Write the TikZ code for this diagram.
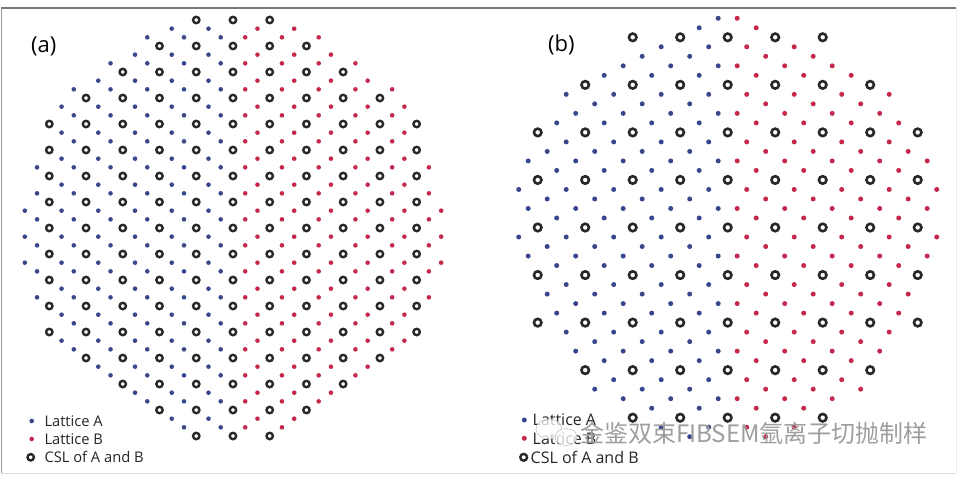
\documentclass[tikz,border=0pt]{standalone}
\usepackage{fontspec}
\setmainfont{Open Sans}
\newfontfamily\cjkfont{Noto Sans CJK SC}
\usetikzlibrary{positioning}
\definecolor{latA}{RGB}{58,70,140}
\definecolor{latB}{RGB}{196,40,76}
\definecolor{ring}{RGB}{40,40,40}
\definecolor{frame}{RGB}{120,120,120}

\begin{document}
\begin{tikzpicture}[x=1pt,y=-1pt,
    dotA/.style={circle,fill=latA,inner sep=0pt,minimum size=#1},
    dotB/.style={circle,fill=latB,inner sep=0pt,minimum size=#1},
    csl/.style={circle,draw=ring,line width=2.4pt,inner sep=0pt,minimum size=#1},
    tag/.style={font=\fontsize{22}{26}\selectfont,inner sep=0pt,anchor=west},
    lgtext/.style={font=\fontsize{#1}{18}\selectfont,inner sep=0pt,anchor=west,text=black!85}]
  \useasboundingbox (0,0) rectangle (961,484);
  \fill[white] (0,0) rectangle (961,484);
  \coordinate (TL) at (1,8);
  \coordinate (TR) at (956,8);
  \coordinate (BL) at (1,473);
  \coordinate (BR) at (956,473);
  \draw[black!15] (BL) -- (BR);
  \draw[black!8] (TR) -- (BR);
  \draw[black!40] (TL) -- (BL);
  \draw[frame,line width=1.4pt] (TL) -- (TR);

  \node[tag] (taga) at (31,46) {(a)};
  \node[tag] (tagb) at (548,44.5) {(b)};

  \foreach \q in {0,...,48}
    \foreach \p in {-2,...,32}{
      \pgfmathtruncatemacro\rr{2*(\p-15)*(\p-15)+(\q-24)*(\q-24)}
      \ifnum\rr<599
        \pgfmathtruncatemacro\kc{mod(\p+99,3)+mod(\q+99,3)}
        \ifnum\kc=0
          \node[csl=6.4pt] (a-\p-\q) at ({49.3+12.245*\p},{20+8.667*\q}) {};
        \else
          \ifnum\p<15
            \pgfmathtruncatemacro\ka{mod(\p-\q+99,3)}
            \ifnum\ka=0
              \node[dotA=4.6pt] (a-\p-\q) at ({49.3+12.245*\p},{20+8.667*\q}) {};
            \fi
          \else
            \pgfmathtruncatemacro\kb{mod(\p+\q+99,3)}
            \ifnum\kb=0
              \node[dotB=4.6pt] (a-\p-\q) at ({49.3+12.245*\p},{20+8.667*\q}) {};
            \fi
          \fi
        \fi
      \fi}

  \foreach \q in {-2,...,42}
    \foreach \p in {-2,...,42}{
      \pgfmathtruncatemacro\rr{(\p-20)*(\p-20)+(\q-20)*(\q-20)}
      \ifnum\rr<503
        \pgfmathtruncatemacro\kc{mod(\p+100,5)+mod(\q+100,5)}
        \ifnum\kc=0
          \node[csl=7.5pt,line width=2.6pt] (b-\p-\q) at ({537.7+9.5*\p},{37.3+9.51*\q}) {};
        \else
          \ifnum\p<20
            \pgfmathtruncatemacro\ka{mod(\p-3*\q+300,5)}
            \ifnum\ka=0
              \node[dotA=5pt] (b-\p-\q) at ({537.7+9.5*\p},{37.3+9.51*\q}) {};
            \fi
          \else
            \pgfmathtruncatemacro\kb{mod(\p-2*\q+300,5)}
            \ifnum\kb=0
              \node[dotB=5pt] (b-\p-\q) at ({537.7+9.5*\p},{37.3+9.51*\q}) {};
            \fi
          \fi
        \fi
      \fi}

  \node[dotA=4.6pt] (legaA) at (31.7,421) {};
  \node[dotB=4.6pt] (legaB) at (31.7,439) {};
  \node[csl=6.4pt] (legaC) at (30.7,457.3) {};
  \node[lgtext=14.7] (legaAt) at (44.3,421) {Lattice A};
  \node[lgtext=14.7] (legaBt) at (44.3,439) {Lattice B};
  \node[lgtext=14.7] (legaCt) at (44.3,457.3) {CSL of A and B};

  \node[dotA=5pt] (legbA) at (524.3,420) {};
  \node[dotB=5pt] (legbB) at (524.3,438.3) {};
  \node[csl=6.8pt,line width=2.4pt] (legbC) at (523.7,457.3) {};
  \node[lgtext=16] (legbAt) at (532.5,420) {Lattice A};
  \node[lgtext=16] (legbBt) at (532.5,438.3) {Lattice B};
  \node[lgtext=16] (legbCt) at (530.5,457.3) {CSL of A and B};

  \draw[black!30,fill=white,fill opacity=0.75] (549,429) ellipse [x radius=13,y radius=10];
  \draw[black!30,fill=white,fill opacity=0.75] (566,437) ellipse [x radius=11,y radius=8.5];
  \node[anchor=west,inner sep=0pt,text=black!38,font=\cjkfont\fontsize{24}{28}\selectfont] (wm) at (580,433) {金鉴双束FIBSEM氩离子切抛制样};
\end{tikzpicture}
\end{document}
